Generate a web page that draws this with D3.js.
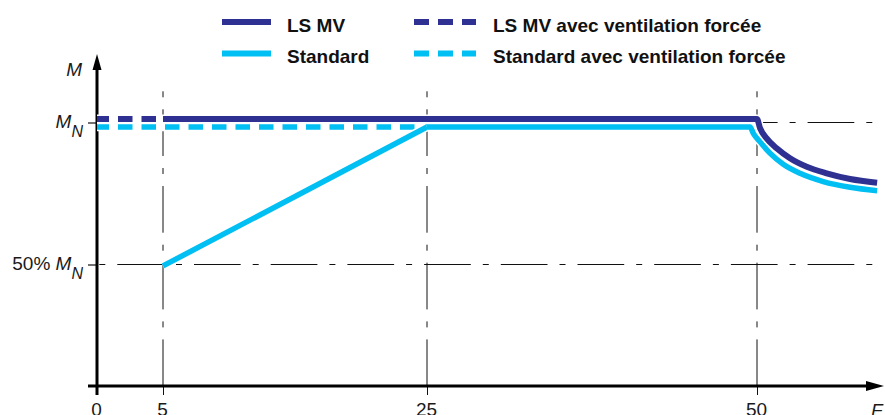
<!DOCTYPE html>
<html><head><meta charset="utf-8">
<script src="https://cdn.jsdelivr.net/npm/d3@7"></script>
<style>
html,body{margin:0;padding:0;background:#fff;}
svg{display:block;font-family:"Liberation Sans",Arial,sans-serif;}
</style></head>
<body>
<svg id="chart" width="885" height="415"></svg>
<script>
// ---- data ----
const F_TICKS = [0, 5, 25, 50];
const F_GRID = [5, 25, 50];
const M_TICKS = [0.5, 1];
const M_TICK_LABELS = ["50% M", "M"];

const lsmvDashF = [0, 5];
const lsmvDashM = [1.012, 1.012];
const lsmvF = [5, 50, 50.23, 50.73, 51.49, 52.5, 53.77, 55.28, 57.05, 59.1];
const lsmvM = [1.012, 1.012, 0.980, 0.944, 0.909, 0.874, 0.844, 0.821, 0.801, 0.788];

const stdDashF = [0, 25];
const stdDashM = [0.984, 0.984];
const stdRampF = [5, 25];
const stdRampM = [0.495, 0.984];
const stdF = [25, 49.47, 49.72, 50.23, 50.98, 51.99, 53.26, 55.02, 57.05, 59.1];
const stdM = [0.984, 0.984, 0.962, 0.932, 0.892, 0.853, 0.821, 0.792, 0.772, 0.760];

const legendLabels = ["LS MV", "LS MV avec ventilation forcée", "Standard", "Standard avec ventilation forcée"];
const legendColors = ["#2e3192", "#2e3192", "#00bff3", "#00bff3"];
const legendDashed = [false, true, false, true];

const NAVY = "#2e3192", CYAN = "#00bff3";

// ---- scales ----
const svg = d3.select("#chart");
const x = d3.scaleLinear().domain([0, 50]).range([97, 757]);
const y = d3.scaleLinear().domain([0.5, 1]).range([264.5, 122.5]);
const AXIS_Y = 386;
const zip = (a, b) => a.map((v, i) => [v, b[i]]);

// ---- grid lines (dash-dot) ----
const grid = svg.append("g").attr("stroke", "#111").attr("stroke-width", 1).attr("fill", "none")
  .attr("stroke-dasharray", "46.7,12,6,12");
grid.selectAll("line.h").data(M_TICKS).join("line").attr("class", "h")
  .attr("x1", x(0)).attr("x2", 882)
  .attr("y1", d => y(d)).attr("y2", d => y(d))
  .attr("stroke-dashoffset", 56.4);
grid.selectAll("line.v").data(F_GRID).join("line").attr("class", "v")
  .attr("x1", d => x(d)).attr("x2", d => x(d))
  .attr("y1", 91).attr("y2", AXIS_Y)
  .attr("stroke-dashoffset", 58.4);

// ---- axes ----
const xAxis = d3.axisBottom(x).tickValues(F_TICKS).tickSize(9).tickPadding(7).tickFormat(d3.format("d"));
const gx = svg.append("g").attr("transform", `translate(0,${AXIS_Y})`).call(xAxis);
gx.select(".domain").remove();
gx.selectAll(".tick line").attr("stroke", "#111").attr("stroke-width", 1);
gx.selectAll(".tick text").attr("font-size", 19).attr("fill", "#1a1a1a")
  .attr("font-family", "'Liberation Sans',Arial,sans-serif")
  .attr("dy", null).attr("y", 29.5).attr("dx", -1);

const yAxis = d3.axisLeft(y).tickValues(M_TICKS).tickSize(9).tickFormat("");
const gy = svg.append("g").attr("transform", `translate(${x(0)},0)`).call(yAxis);
gy.select(".domain").remove();
gy.selectAll(".tick line").attr("stroke", "#111").attr("stroke-width", 1.2);

// axis lines
svg.append("line").attr("x1", 88).attr("x2", 868).attr("y1", AXIS_Y).attr("y2", AXIS_Y)
  .attr("stroke", "#000").attr("stroke-width", 3);
svg.append("line").attr("x1", x(0)).attr("x2", x(0)).attr("y1", 395).attr("y2", 66)
  .attr("stroke", "#000").attr("stroke-width", 3);
svg.append("path").attr("d", `M884,${AXIS_Y} L866,${AXIS_Y - 5} L866,${AXIS_Y + 5} Z`).attr("fill", "#000");
svg.append("path").attr("d", `M${x(0)},54 L${x(0) - 4.5},70 L${x(0) + 4.5},70 Z`).attr("fill", "#000");

// y tick labels with subscript N
svg.selectAll("text.ylab").data(M_TICKS).join("text").attr("class", "ylab")
  .attr("x", 83).attr("y", d => y(d) + 5.5).attr("text-anchor", "end")
  .attr("font-size", 19).attr("fill", "#1a1a1a")
  .each(function (d, i) {
    const t = d3.select(this);
    const lab = M_TICK_LABELS[i];
    if (lab.startsWith("50%")) {
      t.append("tspan").text("50% ");
      t.append("tspan").attr("font-style", "italic").text("M");
    } else {
      t.append("tspan").attr("font-style", "italic").text("M");
    }
    t.append("tspan").attr("font-style", "italic").attr("font-size", 16).attr("dy", 8.5).text("N");
  });

// axis titles
svg.append("text").attr("x", 82).attr("y", 76).attr("text-anchor", "end")
  .attr("font-size", 19).attr("font-style", "italic").attr("fill", "#1a1a1a").text("M");
svg.append("text").attr("x", 871).attr("y", 417)
  .attr("font-size", 19).attr("font-style", "italic").attr("fill", "#1a1a1a").text("F");

// ---- lines ----
const lineLin = d3.line().x(d => x(d[0])).y(d => y(d[1]));
const lineCurve = d3.line().x(d => x(d[0])).y(d => y(d[1])).curve(d3.curveMonotoneX);

function draw(data, gen, color, width, dashed) {
  svg.append("path").attr("d", gen(data)).attr("fill", "none")
    .attr("stroke", "#fff").attr("stroke-width", width + 3).attr("stroke-linecap", "butt");
  svg.append("path").attr("d", gen(data)).attr("fill", "none")
    .attr("stroke", color).attr("stroke-width", width).attr("stroke-linecap", "butt")
    .attr("stroke-linejoin", "round")
    .attr("stroke-dasharray", dashed ? "14.5,9" : null)
    .attr("stroke-dashoffset", dashed ? 2.5 : null);
}
draw(zip(stdDashF, stdDashM), lineLin, CYAN, 5.5, true);
draw(zip(stdRampF, stdRampM), lineLin, CYAN, 5.5, false);
draw(zip(stdF, stdM), lineCurve, CYAN, 5.5, false);
draw(zip(lsmvDashF, lsmvDashM), lineLin, NAVY, 6, true);
draw(zip(lsmvF, lsmvM), lineCurve, NAVY, 6, false);

// ---- legend ----
const colX = [222, 414];
const textX = [287, 493];
const rowY = [22, 53.5];
const leg = svg.append("g");
legendLabels.forEach((lab, i) => {
  const c = i % 2, r = Math.floor(i / 2);
  const lx = colX[c];
  leg.append("line").attr("x1", lx).attr("x2", lx + (legendDashed[i] ? 62 : 49))
    .attr("y1", rowY[r]).attr("y2", rowY[r])
    .attr("stroke", legendColors[i]).attr("stroke-width", 6)
    .attr("stroke-dasharray", legendDashed[i] ? "15,9" : null);
  leg.append("text").attr("x", textX[c]).attr("y", rowY[r] + 9.5)
    .attr("font-size", 19).attr("font-weight", "bold").attr("fill", "#111").text(lab);
});
</script>
</body></html>
